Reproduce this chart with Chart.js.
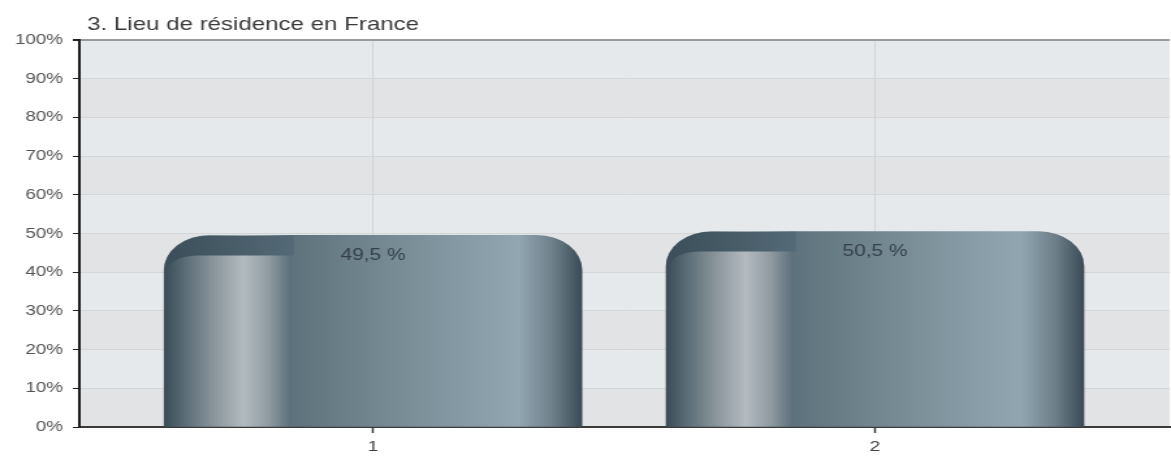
<!DOCTYPE html>
<html><head><meta charset="utf-8">
<script src="https://cdn.jsdelivr.net/npm/chart.js@4"></script>
<style>
html,body{margin:0;padding:0;background:#fff;overflow:hidden;}
#wrap{width:900px;height:458px;transform:scaleX(1.30111);transform-origin:0 0;}
</style></head><body>
<div id="wrap"><canvas id="c"></canvas></div>
<script>
const chartTitle = '3. Lieu de résidence en France';
const categories = [1, 2];
const categoryLabels = ['1', '2'];
const values = [49.5, 50.5];
const yTickValues = [0, 10, 20, 30, 40, 50, 60, 70, 80, 90, 100];
const yTickLabels = ['0%', '10%', '20%', '30%', '40%', '50%', '60%', '70%', '80%', '90%', '100%'];

const FONT = "'Liberation Sans', Arial, sans-serif";
const BAR_T = 321;
const RADIUS = 35;

function barGradient(ctx) {
  const chart = ctx.chart;
  const xs = chart.scales.x;
  if (!xs || !chart.chartArea || !ctx.raw) return '#6f838e';
  const cx = xs.getPixelForValue(ctx.raw.x);
  const g = chart.ctx.createLinearGradient(cx - BAR_T / 2, 0, cx + BAR_T / 2, 0);
  g.addColorStop(0.00, '#3a4c56');
  g.addColorStop(0.05, '#5b6d77');
  g.addColorStop(0.12, '#8b969c');
  g.addColorStop(0.19, '#b3bbc0');
  g.addColorStop(0.25, '#909ba1');
  g.addColorStop(0.30, '#5e727d');
  g.addColorStop(0.50, '#72868f');
  g.addColorStop(0.70, '#8599a4');
  g.addColorStop(0.85, '#91a6b1');
  g.addColorStop(0.93, '#6e808a');
  g.addColorStop(1.00, '#3a4b55');
  return g;
}

const bands = {
  id: 'bands',
  beforeDraw(chart) {
    const { ctx, chartArea: a, scales: { y } } = chart;
    ctx.save();
    for (let i = 0; i < yTickValues.length - 1; i++) {
      const y0 = y.getPixelForValue(yTickValues[i + 1]);
      const y1 = y.getPixelForValue(yTickValues[i]);
      ctx.fillStyle = ((yTickValues.length - 2 - i) % 2 === 0) ? '#e6e9ec' : '#e2e3e5';
      ctx.fillRect(a.left, y0, a.right - a.left, y1 - y0);
    }
    ctx.restore();
  }
};

const barDecor = {
  id: 'barDecor',
  afterDatasetsDraw(chart) {
    const c = chart.ctx;
    const meta = chart.getDatasetMeta(0);
    meta.data.forEach((el, i) => {
      const w = el.width, l = el.x - w / 2, t = el.y, b = el.base;
      c.save();
      c.beginPath();
      c.roundRect(l, t, w, b - t, [RADIUS, RADIUS, 0, 0]);
      c.clip();
      const xr = l + 0.31 * w, bandH = 20, rr = 26;
      const g = c.createLinearGradient(l, 0, xr, 0);
      g.addColorStop(0, '#3b4e59');
      g.addColorStop(1, '#546a76');
      c.fillStyle = g;
      c.beginPath();
      c.moveTo(l, t);
      c.lineTo(xr, t);
      c.lineTo(xr, t + bandH);
      c.lineTo(l + rr, t + bandH);
      c.quadraticCurveTo(l, t + bandH, l, t + bandH + rr);
      c.closePath();
      c.fill();
      c.restore();

      c.save();
      c.fillStyle = '#34414a';
      c.font = '16px ' + FONT;
      c.textAlign = 'center';
      c.textBaseline = 'middle';
      c.fillText(values[i].toFixed(1).replace('.', ',') + ' %', el.x, t + 20);
      c.restore();
    });
  }
};

const titlePlugin = {
  id: 'titleText',
  afterDraw(chart) {
    const c = chart.ctx;
    c.save();
    c.fillStyle = '#3a3a3a';
    c.font = '18.5px ' + FONT;
    c.textAlign = 'left';
    c.textBaseline = 'alphabetic';
    c.fillText(chartTitle, 67, 29.5);
    c.restore();
  }
};

new Chart(document.getElementById('c'), {
  type: 'bar',
  data: {
    datasets: [{
      data: categories.map((c, i) => ({ x: c, y: values[i] })),
      backgroundColor: barGradient,
      borderWidth: 0,
      borderRadius: RADIUS,
      borderSkipped: 'start',
      barThickness: BAR_T
    }]
  },
  options: {
    responsive: true,
    maintainAspectRatio: false,
    animation: false,
    layout: { padding: { top: 40, right: 1, left: 0, bottom: 0 } },
    plugins: { legend: { display: false }, tooltip: { enabled: false } },
    scales: {
      x: {
        type: 'linear',
        offset: false,
        min: 0.415,
        max: 2.587,
        afterBuildTicks(scale) { scale.ticks = categories.map(v => ({ value: v })); },
        afterFit(scale) { scale.height = 31; },
        ticks: {
          callback: (v) => categoryLabels[categories.indexOf(v)] ?? '',
          font: { family: FONT, size: 15 },
          color: '#444',
          padding: 5,
          maxRotation: 0
        },
        grid: { offset: false, color: '#d1d4d7', lineWidth: 1, tickColor: '#333', tickLength: 6, tickWidth: 1.5 },
        border: { display: true, color: '#3a3a3a', width: 2 }
      },
      y: {
        min: 0,
        max: 100,
        afterBuildTicks(scale) { scale.ticks = yTickValues.map(v => ({ value: v })); },
        afterFit(scale) { scale.width = 61; },
        ticks: {
          callback: (v) => yTickLabels[yTickValues.indexOf(v)] ?? '',
          font: { family: FONT, size: 14.5 },
          color: '#555',
          padding: 7.5
        },
        grid: {
          color: (ctx) => (ctx.tick && ctx.tick.value === 100) ? '#9a9a9a' : '#d4d7da',
          lineWidth: (ctx) => (ctx.tick && ctx.tick.value === 100) ? 2 : 1,
          tickColor: '#222',
          tickLength: 5
        },
        border: { display: true, color: '#1f1f1f', width: 2 }
      }
    }
  },
  plugins: [bands, barDecor, titlePlugin]
});
</script>
</body></html>
